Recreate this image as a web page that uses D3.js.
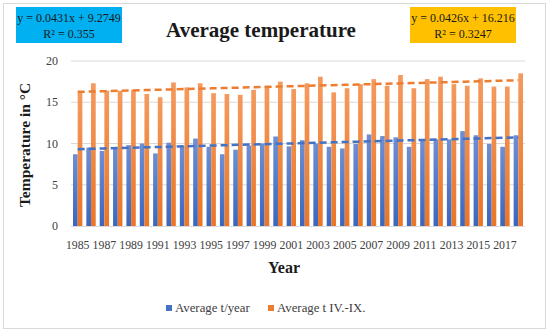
<!DOCTYPE html>
<html>
<head>
<meta charset="utf-8">
<script src="https://cdnjs.cloudflare.com/ajax/libs/d3/7.8.5/d3.min.js"></script>
<style>
  body { margin: 0; background: #fff; }
  text { font-family: "Liberation Serif", "Times New Roman", serif; fill: #1a1a1a; }
</style>
</head>
<body>
<svg id="chart" width="550" height="331"></svg>
<script>
const years = d3.range(1985, 2019);
const tYear = [8.7, 9.5, 9.1, 9.5, 9.8, 10.0, 8.8, 10.1, 9.7, 10.6, 9.6, 8.7, 9.25, 9.75, 10.0, 10.85, 9.65, 10.4,
  10.0, 9.6, 9.4, 9.95, 11.1, 10.9, 10.75, 9.6, 10.35, 10.5, 10.5, 11.5, 11.0, 9.95, 9.6, 11.0];
const tSummer = [16.15, 17.3, 16.4, 16.4, 16.5, 16.0, 15.6, 17.4, 16.8, 17.3, 16.1, 16.0, 15.9, 16.5, 17.0, 17.5, 16.6, 17.3,
  18.1, 16.2, 16.7, 17.2, 17.8, 17.0, 18.3, 16.7, 17.8, 18.1, 17.2, 17.0, 17.9, 16.9, 16.9, 18.5];
const yTicks = [0, 5, 10, 15, 20];
const xTickYears = d3.range(1985, 2019, 2);
const seriesNames = ["Average t/year", "Average t IV.-IX."];
const trendYear = { slope: 0.0431, intercept: 9.2749, label: "y = 0.0431x + 9.2749", r2: "R² = 0.355" };
const trendSummer = { slope: 0.0426, intercept: 16.216, label: "y = 0.0426x + 16.216", r2: "R² = 0.3247" };

const svg = d3.select('#chart');
const margin = { left: 71, right: 25, top: 61, bottom: 105 };
const W = 550, H = 331;

const blue = '#4472C4', orange = '#ED7D31';

// gradients for the bars
const defs = svg.append('defs');
function grad(id, top, bottom) {
  const g = defs.append('linearGradient').attr('id', id).attr('x1', 0).attr('y1', 0).attr('x2', 0).attr('y2', 1);
  g.append('stop').attr('offset', '0%').attr('stop-color', top);
  g.append('stop').attr('offset', '100%').attr('stop-color', bottom);
}
grad('gBlue', '#6f8fd3', '#3a66be');
grad('gOrange', '#f49a5e', '#eb7526');

// outer chart border
svg.append('rect').attr('x', 3.5).attr('y', 3.5).attr('width', 542).attr('height', 325)
  .attr('fill', 'none').attr('stroke', '#d9d9d9');

const x = d3.scaleBand().domain(years).range([margin.left, W - margin.right]).paddingInner(0.3).paddingOuter(0.15);
const y = d3.scaleLinear().domain([0, 20]).range([H - margin.bottom, margin.top]);
const xs = d3.scaleBand().domain([0, 1]).range([0, x.bandwidth()]);

// grid
svg.append('g').selectAll('line').data(yTicks.filter(d => d > 0)).enter().append('line')
  .attr('x1', margin.left).attr('x2', W - margin.right)
  .attr('y1', d => y(d)).attr('y2', d => y(d))
  .attr('stroke', '#d9d9d9').attr('stroke-width', 1);

// y tick labels
svg.append('g').selectAll('text').data(yTicks).enter().append('text')
  .attr('x', 58).attr('y', d => y(d) + 4)
  .attr('text-anchor', 'end').style('font-size', '12px').style('fill', '#404040')
  .text(d => d);

// bars
const groups = svg.append('g').selectAll('g').data(years).enter().append('g')
  .attr('transform', d => `translate(${x(d)},0)`);
groups.append('rect').attr('x', xs(0)).attr('width', xs.bandwidth())
  .attr('y', (d, i) => y(tYear[i])).attr('height', (d, i) => y(0) - y(tYear[i]))
  .attr('fill', 'url(#gBlue)');
groups.append('rect').attr('x', xs(1)).attr('width', xs.bandwidth())
  .attr('y', (d, i) => y(tSummer[i])).attr('height', (d, i) => y(0) - y(tSummer[i]))
  .attr('fill', 'url(#gOrange)');

// x axis line
svg.append('line').attr('x1', margin.left).attr('x2', W - margin.right)
  .attr('y1', y(0) + 0.5).attr('y2', y(0) + 0.5).attr('stroke', '#d9d9d9');

// x tick labels
svg.append('g').selectAll('text').data(xTickYears).enter().append('text')
  .attr('x', d => x(d) + x.bandwidth() / 2).attr('y', 249)
  .attr('text-anchor', 'middle').style('font-size', '11.8px').style('fill', '#404040')
  .text(d => d);

// trendlines
function trend(t, color) {
  const pts = years.map((yr, i) => [x(yr) + x.bandwidth() / 2, y(t.slope * (i + 1) + t.intercept)]);
  svg.append('path').attr('d', d3.line()(pts))
    .attr('fill', 'none').attr('stroke', color).attr('stroke-width', 2.5)
    .attr('stroke-dasharray', '7,4');
}
trend(trendYear, blue);
trend(trendSummer, orange);

// title and axis titles
svg.append('text').attr('x', 261).attr('y', 37).attr('text-anchor', 'middle')
  .style('font-size', '21px').style('font-weight', 'bold').text('Average temperature');
svg.append('text').attr('transform', 'translate(30,145) rotate(-90)').attr('text-anchor', 'middle')
  .style('font-size', '15.5px').style('font-weight', 'bold').text('Temperature in °C');
svg.append('text').attr('x', 284).attr('y', 273).attr('text-anchor', 'middle')
  .style('font-size', '16px').style('font-weight', 'bold').text('Year');

// equation boxes
function eqBox(x0, fill, t) {
  svg.append('rect').attr('x', x0).attr('y', 7).attr('width', 106).attr('height', 36).attr('fill', fill);
  svg.append('text').attr('x', x0 + 53).attr('y', 22).attr('text-anchor', 'middle')
    .style('font-size', '12px').text(t.label);
  svg.append('text').attr('x', x0 + 53).attr('y', 38).attr('text-anchor', 'middle')
    .style('font-size', '12px').text(t.r2);
}
eqBox(16, '#00B0F0', trendYear);
eqBox(410, '#FFC000', trendSummer);

// legend
const legend = svg.append('g');
const legX = [166, 268];
[blue, orange].forEach((c, i) => {
  legend.append('rect').attr('x', legX[i]).attr('y', 305).attr('width', 6).attr('height', 6).attr('fill', c);
  legend.append('text').attr('x', legX[i] + 9).attr('y', 312)
    .style('font-size', '12.8px').style('fill', '#404040').text(seriesNames[i]);
});
</script>
</body>
</html>
